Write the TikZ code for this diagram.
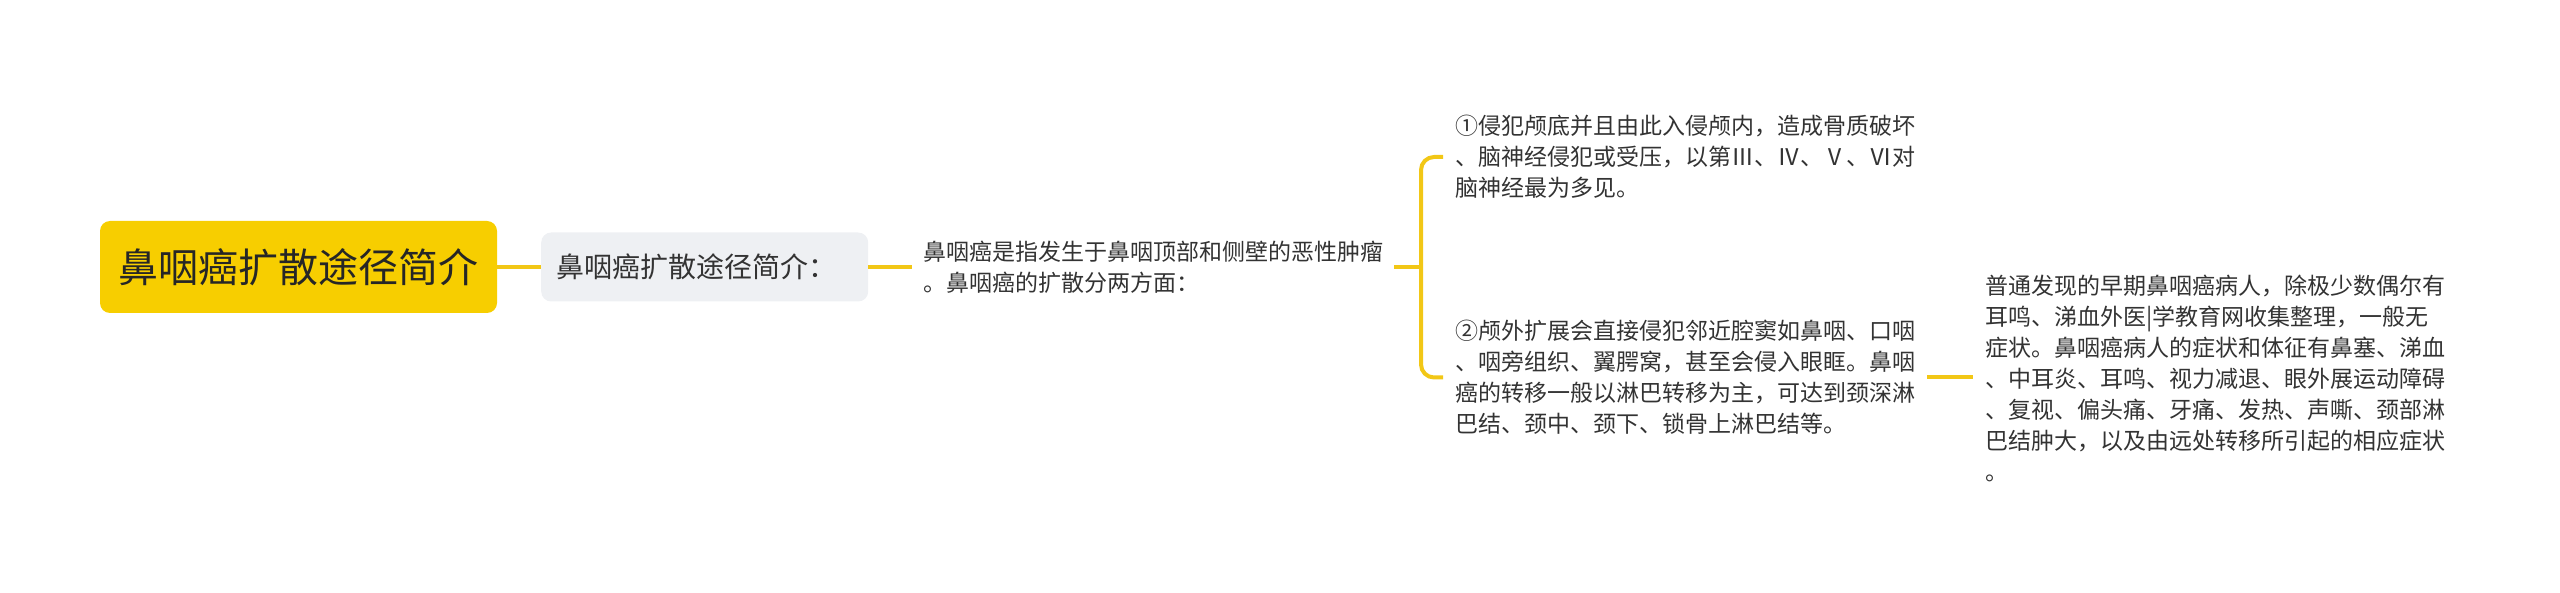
\documentclass[tikz,border=0pt]{standalone}
\usepackage{fontspec}
\newfontfamily\cjk{Noto Sans CJK SC}
\definecolor{rootfill}{RGB}{247,206,0}
\definecolor{linec}{RGB}{242,199,22}
\definecolor{grayfill}{RGB}{238,240,243}
\definecolor{txt}{RGB}{51,51,51}
\begin{document}
\begin{tikzpicture}[x=1pt,y=-1pt,
  conn/.style={draw=linec,line width=4pt},
  rootbox/.style={fill=rootfill,rounded corners=10pt,minimum width=397pt,minimum height=92pt,inner sep=0pt,font=\cjk\fontsize{40}{48}\selectfont,text=black!85},
  subbox/.style={fill=grayfill,rounded corners=10pt,text width=297pt,minimum height=69pt,inner xsep=15pt,inner ysep=0pt,align=left,font=\cjk\fontsize{28}{34}\selectfont,text=txt},
  para/.style={anchor=west,inner xsep=11pt,inner ysep=0pt,align=left,font=\cjk\fontsize{23}{31}\selectfont,text=txt}]
\useasboundingbox (0,0) rectangle (2560,593);
\node[rootbox] (root) at (298.5,267) {鼻咽癌扩散途径简介};
\node[subbox,anchor=west] (sub) at (541,267) {鼻咽癌扩散途径简介：};
\node[para] (intro) at (912,267) {鼻咽癌是指发生于鼻咽顶部和侧壁的恶性肿瘤\\。鼻咽癌的扩散分两方面：};
\node[para,inner xsep=12pt] (a) at (1443,157) {①侵犯颅底并且由此入侵颅内，造成骨质破坏\\、脑神经侵犯或受压，以第Ⅲ、Ⅳ、Ⅴ、Ⅵ对\\脑神经最为多见。};
\node[para,inner xsep=12pt] (b) at (1443,377.5) {②颅外扩展会直接侵犯邻近腔窦如鼻咽、口咽\\、咽旁组织、翼腭窝，甚至会侵入眼眶。鼻咽\\癌的转移一般以淋巴转移为主，可达到颈深淋\\巴结、颈中、颈下、锁骨上淋巴结等。};
\node[para,inner xsep=12pt] (c) at (1973,378.5) {普通发现的早期鼻咽癌病人，除极少数偶尔有\\耳鸣、涕血外医|学教育网收集整理，一般无\\症状。鼻咽癌病人的症状和体征有鼻塞、涕血\\、中耳炎、耳鸣、视力减退、眼外展运动障碍\\、复视、偏头痛、牙痛、发热、声嘶、颈部淋\\巴结肿大，以及由远处转移所引起的相应症状\\。};
\coordinate (bx) at (1421,267);
\draw[conn] (root.east) -- (sub.west);
\draw[conn] (sub.east) -- (intro.west);
\draw[conn] (intro.east) -- (bx);
\draw[conn,rounded corners=13pt] (a.west) -| (bx) |- (b.west);
\draw[conn] (b.east) -- (b.east -| c.west);
\end{tikzpicture}
\end{document}
